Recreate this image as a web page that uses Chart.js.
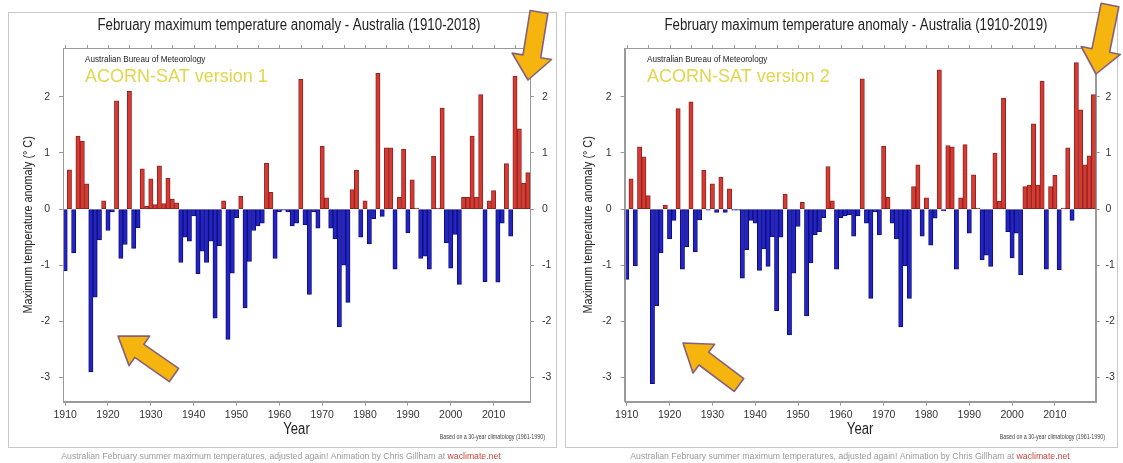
<!DOCTYPE html>
<html>
<head>
<meta charset="utf-8">
<title>February maximum temperature anomaly - Australia</title>
<script src="https://cdn.jsdelivr.net/npm/chart.js@4.4.1/dist/chart.umd.min.js"></script>
<style>
  html, body { margin: 0; padding: 0; background: #fff; }
  #wrap { position: relative; width: 1123px; height: 463px; overflow: hidden; }
  #wrap canvas { position: absolute; top: 0; }
</style>
</head>
<body>
<div id="wrap">
  <canvas id="v1" width="560" height="463" style="left:0"></canvas>
  <canvas id="v2" width="563" height="463" style="left:560px"></canvas>
</div>
<script>
// categories
var yearsV1 = Array.from({ length: 109 }, function (_, i) { return String(1910 + i); });
var yearsV2 = Array.from({ length: 110 }, function (_, i) { return String(1910 + i); });

// February max temp anomaly, ACORN-SAT version 1 (1910-2018)
var anomV1 = [
  -1.10, 0.70, -0.78, 1.30, 1.21, 0.45, -2.90, -1.57, -0.55, 0.15,
  -0.38, -0.05, 1.93, -0.88, -0.63, 2.10, -0.70, -0.33, 0.72, 0.05,
  0.54, 0.08, 0.77, 0.10, 0.55, 0.18, 0.11, -0.95, -0.50, -0.57,
  -0.12, -1.15, -0.75, -0.95, -0.57, -1.94, -0.65, 0.15, -2.32, -1.14,
  -0.15, 0.23, -1.76, -0.93, -0.38, -0.30, -0.25, 0.82, 0.30, -0.88,
  -0.05, -0.02, -0.05, -0.30, -0.25, 2.31, -0.28, -1.52, -0.05, -0.34,
  1.12, 0.20, -0.34, -0.53, -2.10, -1.00, -1.66, 0.35, 0.69, -0.50,
  0.15, -0.62, -0.17, 2.42, -0.13, 1.09, 1.09, -1.07, 0.21, 1.07,
  -0.42, 0.52, 0.02, -0.88, -0.84, -1.07, 0.94, 0.02, 1.80, -0.60,
  -1.05, -0.45, -1.34, 0.21, 0.21, 1.30, 0.21, 2.04, -1.29, 0.15,
  0.33, -1.30, -0.25, 0.81, -0.48, 2.37, 1.43, 0.46, 0.65
];

// February max temp anomaly, ACORN-SAT version 2 (1910-2019)
var anomV2 = [
  -1.25, 0.54, -1.01, 1.11, 0.93, 0.24, -3.11, -1.72, -0.78, 0.07,
  -0.53, -0.20, 1.79, -1.07, -0.67, 1.91, -0.76, -0.19, 0.69, -0.02,
  0.45, -0.06, 0.57, -0.06, 0.36, -0.02, -0.02, -1.23, -0.72, -0.20,
  -0.25, -1.09, -0.71, -1.02, -0.49, -1.81, -0.50, 0.27, -2.24, -1.14,
  -0.31, 0.12, -1.90, -0.96, -0.46, -0.40, -0.15, 0.76, 0.15, -1.07,
  -0.15, -0.12, -0.10, -0.48, -0.12, 2.32, -0.25, -1.59, -0.05, -0.46,
  1.12, 0.21, -0.25, -0.53, -2.10, -1.01, -1.59, 0.40, 0.79, -0.48,
  0.20, -0.64, -0.16, 2.48, -0.03, 1.13, 1.11, -1.07, 0.20, 1.15,
  -0.43, 0.61, 0.02, -0.90, -0.82, -1.02, 1.00, 0.14, 1.98, -0.40,
  -0.87, -0.43, -1.17, 0.40, 0.43, 1.52, 0.43, 2.28, -1.07, 0.40,
  0.60, -1.08, 0.02, 1.09, -0.20, 2.61, 1.77, 0.79, 0.95, 2.04
];

// axis ticks
var yTicks = [-3, -2, -1, 0, 1, 2];
var yMin = -3.43, yMax = 2.87;

var SANS = "'Liberation Sans', Arial, sans-serif";

// draw text squeezed horizontally (stands in for Arial Narrow)
function narrowText(c, s, x, y, sx) {
    c.save();
    c.translate(x, y);
    c.scale(sx, 1);
    c.fillText(s, 0, 0);
    c.restore();
}

function drawArrow(c, tail, tip, sw, hw, hl) {
    var dx = tip[0] - tail[0], dy = tip[1] - tail[1], L = Math.hypot(dx, dy);
    var ux = dx / L, uy = dy / L, nx = -uy, ny = ux;
    var bx = tip[0] - ux * hl, by = tip[1] - uy * hl;
    c.beginPath();
    c.moveTo(tail[0] + nx * sw, tail[1] + ny * sw);
    c.lineTo(bx + nx * sw, by + ny * sw);
    c.lineTo(bx + nx * hw, by + ny * hw);
    c.lineTo(tip[0], tip[1]);
    c.lineTo(bx - nx * hw, by - ny * hw);
    c.lineTo(bx - nx * sw, by - ny * sw);
    c.lineTo(tail[0] - nx * sw, tail[1] - ny * sw);
    c.closePath();
    c.fillStyle = "#f6b40f";
    c.fill();
    c.strokeStyle = "#86607a";
    c.lineWidth = 1.6;
    c.lineJoin = "round";
    c.stroke();
}

// frames, texts and the orange arrows
var decorPlugin = {
    id: "decor",
    beforeDraw: function (chart, args, o) {
        var c = chart.ctx;
        c.save();
        c.fillStyle = "#fff";
        c.fillRect(0, 0, chart.width, chart.height);
        c.strokeStyle = "#c9c9c9";
        c.lineWidth = 1;
        c.strokeRect(o.panel[0] + 0.5, o.panel[1] + 0.5, o.panel[2], o.panel[3]);
        c.restore();
    },
    afterDraw: function (chart, args, o) {
        var c = chart.ctx, a = chart.chartArea, x = chart.scales.x;
        c.save();
        c.strokeStyle = "#9a9a9a";
        c.lineWidth = 1;
        c.strokeRect(Math.round(a.left) + 0.5, Math.round(a.top) + 0.5,
            Math.round(a.right - a.left), Math.round(a.bottom - a.top));
        // small ticks along the top edge every 5 years
        chart.data.labels.forEach(function (lab, i) {
            if (+lab % 5) return;
            var px = Math.round(x.getPixelForValue(i)) + 0.5;
            c.beginPath();
            c.moveTo(px, a.top);
            c.lineTo(px, a.top - 3);
            c.stroke();
        });

        c.fillStyle = "#222";
        c.textAlign = "center";
        c.textBaseline = "middle";
        c.font = "16px " + SANS;
        narrowText(c, o.title, o.titleX, 26, 0.83);

        c.font = "16px " + SANS;
        narrowText(c, "Year", (a.left + a.right) / 2, 430, 0.82);

        c.save();
        c.translate(o.yTitleX, (a.top + a.bottom) / 2);
        c.rotate(-Math.PI / 2);
        c.font = "13.5px " + SANS;
        narrowText(c, "Maximum temperature anomaly (\u00B0 C)", 0, 0, 0.8);
        c.restore();

        c.textAlign = "left";
        c.font = "9px " + SANS;
        narrowText(c, "Australian Bureau of Meteorology", o.textX, 60, 0.9);
        c.fillStyle = "#e2d64c";
        c.font = "18px " + SANS;
        c.fillText(o.version, o.textX, 77);

        c.textAlign = "right";
        c.fillStyle = "#444";
        c.font = "6.5px " + SANS;
        narrowText(c, "Based on a 30-year climatology (1961-1990)", o.basedX, 437, 0.82);

        // caption under the panel
        var t1 = "Australian February summer maximum temperatures, adjusted again! Animation by Chris Gillham at ";
        var t2 = "waclimate.net";
        c.font = "8.7px " + SANS;
        var w1 = c.measureText(t1).width, w2 = c.measureText(t2).width;
        var sx = o.capX - (w1 + w2) / 2;
        c.textAlign = "left";
        c.fillStyle = "#9a9a9a";
        c.fillText(t1, sx, 457);
        c.fillStyle = "#c8463c";
        c.fillText(t2, sx + w1, 457);

        o.arrows.forEach(function (ar) {
            drawArrow(c, ar[0], ar[1], ar[2], ar[3], ar[4]);
        });
        c.restore();
    }
};

function makeChart(id, labels, values, o) {
    var fills = values.map(function (v) { return v >= 0 ? "#d63a30" : "#2424c4"; });
    var edges = values.map(function (v) { return v >= 0 ? "#8e2424" : "#0e0e78"; });
    var yAxis = function (pos, w, pad) {
        return {
            position: pos,
            min: yMin,
            max: yMax,
            afterBuildTicks: function (s) { s.ticks = yTicks.map(function (v) { return { value: v }; }); },
            grid: { drawOnChartArea: false, tickLength: 4, color: "#999" },
            border: { color: "#9a9a9a" },
            ticks: { color: "#333", padding: pad, font: { family: SANS, size: 10.5 } },
            afterFit: function (s) { s.width = w; }
        };
    };
    return new Chart(document.getElementById(id), {
        type: "bar",
        data: {
            labels: labels,
            datasets: [{
                data: values,
                backgroundColor: fills,
                borderColor: edges,
                borderWidth: 1,
                borderSkipped: false,
                categoryPercentage: 1.0,
                barPercentage: 1.0,
                yAxisID: "y"
            }]
        },
        options: {
            responsive: false,
            animation: false,
            layout: { padding: { top: 48, left: 0, right: 0, bottom: 0 } },
            plugins: {
                legend: { display: false },
                tooltip: { enabled: false },
                decor: o
            },
            scales: {
                x: {
                    offset: true,
                    grid: {
                        drawOnChartArea: false,
                        offset: false,
                        tickLength: 4,
                        color: function (ctx) {
                            return (1910 + ctx.index) % 10 === 0 ? "#999" : "rgba(0,0,0,0)";
                        }
                    },
                    border: { color: "#9a9a9a" },
                    ticks: {
                        autoSkip: false,
                        maxRotation: 0,
                        minRotation: 0,
                        padding: 3,
                        color: "#333",
                        font: { family: SANS, size: 10.5 },
                        callback: function (v, i) {
                            var yr = 1910 + i;
                            return yr % 10 === 0 ? String(yr) : "";
                        }
                    },
                    afterFit: function (s) { s.height = 463 - 401.7; }
                },
                y: yAxis("left", o.leftW, 9),
                y2: yAxis("right", o.rightW, o.rightPad)
            }
        },
        plugins: [decorPlugin]
    });
}

makeChart("v1", yearsV1, anomV1, {
    panel: [8, 12, 548, 435],
    title: "February maximum temperature anomaly - Australia (1910-2018)",
    version: "ACORN-SAT version 1",
    titleX: 289, textX: 85, yTitleX: 28, basedX: 545, capX: 281,
    leftW: 63, rightW: 30, rightPad: 8,
    arrows: [
        [[539, 12], [528, 80], 9, 20, 24],
        [[174, 375], [118, 336], 8, 18, 26]
    ]
});

makeChart("v2", yearsV2, anomV2, {
    panel: [5, 12, 552, 435],
    title: "February maximum temperature anomaly - Australia (1910-2019)",
    version: "ACORN-SAT version 2",
    titleX: 296, textX: 87, yTitleX: 28, basedX: 545, capX: 290,
    leftW: 64.6, rightW: 27.4, rightPad: 6,
    arrows: [
        [[550, 5], [536, 74], 9, 20, 24],
        [[179, 385], [123, 343], 8, 18, 26]
    ]
});
</script>
</body>
</html>
